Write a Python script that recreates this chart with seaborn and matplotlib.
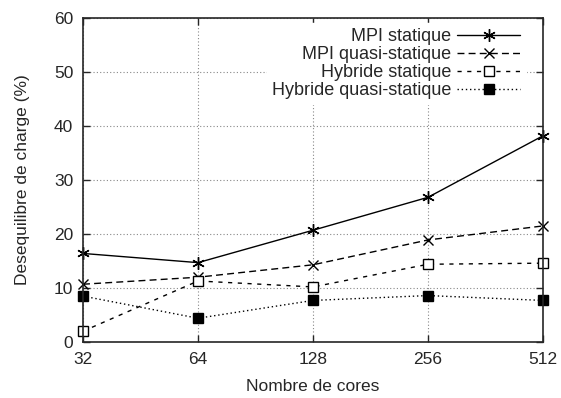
import matplotlib
matplotlib.use("Agg")
import matplotlib.pyplot as plt
from matplotlib.ticker import FixedLocator, FixedFormatter, NullLocator
import pandas as pd
import seaborn as sns

cores = [32, 64, 128, 256, 512]
mpi_statique = [16.4, 14.7, 20.7, 26.8, 38.2]
mpi_quasi = [10.7, 12.0, 14.3, 18.9, 21.5]
hybride_statique = [2.0, 11.3, 10.2, 14.4, 14.6]
hybride_quasi = [8.5, 4.4, 7.7, 8.6, 7.7]

series = [
    ("MPI statique", mpi_statique),
    ("MPI quasi-statique", mpi_quasi),
    ("Hybride statique", hybride_statique),
    ("Hybride quasi-statique", hybride_quasi),
]

sns.set_style("ticks")
plt.rcParams["font.family"] = ["Liberation Sans", "DejaVu Sans"]
plt.rcParams["font.size"] = 12.5

# gnuplot-like look for each curve
styles = [
    dict(linestyle="-", marker=(6, 2, 0), markersize=9, markerfacecolor="black"),
    dict(linestyle=(0, (5, 3)), marker="x", markersize=7, markerfacecolor="black"),
    dict(linestyle=(0, (3, 4)), marker="s", markersize=7, markerfacecolor="white"),
    dict(linestyle=(0, (1, 2)), marker="s", markersize=7, markerfacecolor="black"),
]

fig = plt.figure(figsize=(5.61, 3.98), dpi=100)
ax = fig.add_axes([0.148, 0.1407, 0.82, 0.814])

for (name, vals), st in zip(series, styles):
    df = pd.DataFrame({"cores": cores, "val": vals})
    sns.lineplot(data=df, x="cores", y="val", ax=ax, color="black", linewidth=1.0,
                 markeredgecolor="black", markeredgewidth=1.0, label=name,
                 clip_on=False, **st)

ax.set_xscale("log", base=2)
ax.xaxis.set_major_locator(FixedLocator(cores))
ax.xaxis.set_major_formatter(FixedFormatter([str(c) for c in cores]))
ax.xaxis.set_minor_locator(NullLocator())
ax.set_xlim(32, 512)
ax.set_ylim(0, 60)
ax.set_yticks(range(0, 61, 10))

ax.grid(True, color="#888888", linestyle=(0, (1, 2)), linewidth=0.8)
ax.tick_params(direction="in", top=True, right=True, length=5, width=1,
               labelsize=12.5, pad=7)
for sp in ax.spines.values():
    sp.set_linewidth(1.2)

ax.set_xlabel("Nombre de cores", fontsize=12.5, labelpad=9)
ax.set_ylabel("Desequilibre de charge (%)", fontsize=12.5, labelpad=17)

leg = ax.legend(loc="upper right", bbox_to_anchor=(0.962, 0.985), markerfirst=False,
                frameon=True, framealpha=1, facecolor="white", edgecolor="white",
                fancybox=False, handlelength=3.5, handletextpad=0.3,
                labelspacing=0.05, borderaxespad=0.0, borderpad=0.3, fontsize=13)
leg.set_zorder(2.2)

fig.savefig("out.png", dpi=100)
